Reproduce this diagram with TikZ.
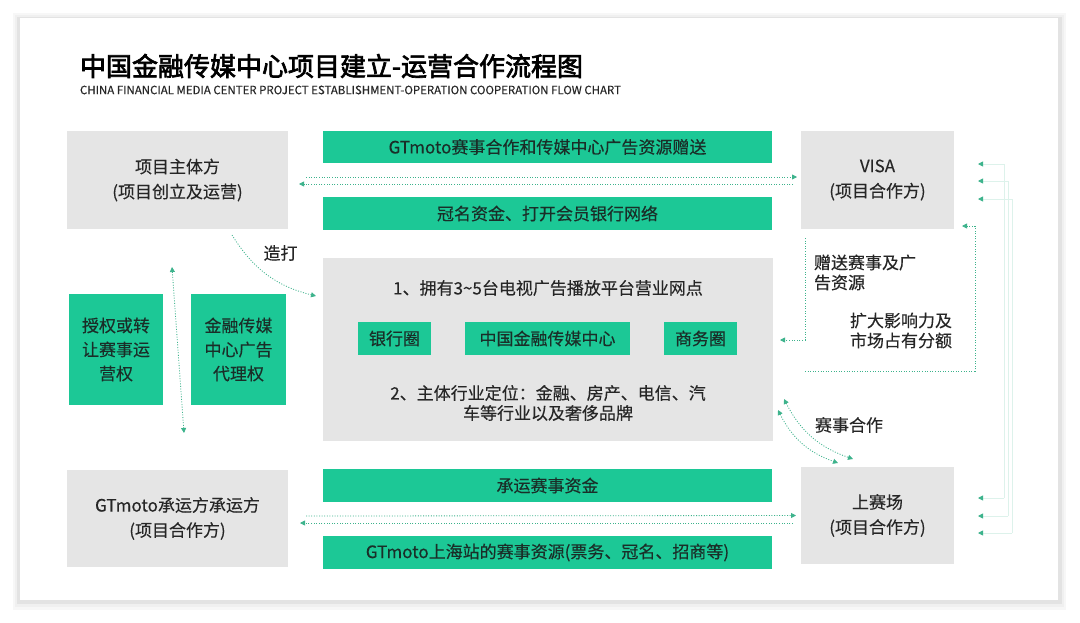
\documentclass[tikz,border=0pt]{standalone}
\usepackage{fontspec}
\usepackage{graphicx}
\setmainfont{Noto Sans CJK SC}[FakeBold=0.3]
\newfontfamily\titlefont{Noto Sans CJK SC}[FakeBold=2.5]
\usetikzlibrary{arrows.meta,calc}
\definecolor{gbox}{HTML}{1CC896}
\definecolor{boxc}{HTML}{E5E5E5}
\definecolor{txtc}{HTML}{262626}
\definecolor{gtxt}{HTML}{1A2E28}
\definecolor{connc}{HTML}{3DB38C}
\definecolor{faintc}{HTML}{DDF2EB}
\begin{document}
\begin{tikzpicture}[x=1pt,y=-1pt,
  every node/.style={inner sep=0pt, outer sep=0pt},
  txt/.style={font=\fontsize{17}{25}\selectfont, text=txtc, align=center},
  graybox/.style={txt, fill=boxc},
  greenbox/.style={txt, fill=gbox, text=gtxt},
  conn/.style={draw=connc, line width=0.8pt, dash pattern=on 1pt off 1.6pt, >={Triangle[length=5pt,width=5pt]}},
  faintconn/.style={draw=faintc, line width=0.8pt, >={Triangle[length=5pt,width=5pt,color=connc]}},
  faint/.style={draw=faintc, line width=0.8pt}]
\useasboundingbox (0,0) rectangle (1080,622);
\fill[white] (0,0) rectangle (1080,622);
% card with shadow
\fill[black!3] (13,13) rectangle (1066,610);
\fill[black!6] (15,15) rectangle (1064,607);
\fill[black!11] (17,17) rectangle (1062,604);
\fill[white] (20,18) rectangle (1058,600);

% title
\node[anchor=west] (title) at (80,66) {\resizebox{503pt}{!}{\fontsize{26}{26}\selectfont\titlefont 中国金融传媒中心项目建立-运营合作流程图}};
\node[anchor=west, text=txtc] (subtitle) at (80,90) {\resizebox{541pt}{!}{\fontsize{11}{11}\selectfont CHINA FINANCIAL MEDIA CENTER PROJECT ESTABLISHMENT-OPERATION COOPERATION FLOW CHART}};

% left/right party boxes
\node[graybox, minimum width=221pt, minimum height=98pt] (main) at (177.5,180) {项目主体方\\(项目创立及运营)};
\node[graybox, minimum width=153pt, minimum height=98pt] (visa) at (877.5,180) {VISA\\(项目合作方)};
\node[graybox, minimum width=221pt, minimum height=97pt] (carrier) at (177.5,518.5) {GTmoto承运方承运方\\(项目合作方)};
\node[graybox, minimum width=153pt, minimum height=97pt] (race) at (877.5,515.5) {上赛场\\(项目合作方)};

% green bars
\node[greenbox, minimum width=449pt, minimum height=32pt] (bar1) at (547.5,147) {GTmoto赛事合作和传媒中心广告资源赠送};
\node[greenbox, minimum width=449pt, minimum height=33pt] (bar2) at (547.5,213.5) {冠名资金、打开会员银行网络};
\node[greenbox, minimum width=449pt, minimum height=33pt] (bar3) at (547.5,485.5) {承运赛事资金};
\node[greenbox, minimum width=449pt, minimum height=33pt] (bar4) at (547.5,552.5) {GTmoto上海站的赛事资源(票务、冠名、招商等)};

% center box
\node[graybox, minimum width=450pt, minimum height=183pt] (center) at (548,349.5) {};
\node[txt] (line1) at (548,288) {1、拥有3\textasciitilde5台电视广告播放平台营业网点};
\node[txt, font=\fontsize{17}{20}\selectfont] (line2) at (548,403) {2、主体行业定位：金融、房产、电信、汽\\车等行业以及奢侈品牌};
\node[greenbox, minimum width=73pt, minimum height=33pt] (g1) at (394.5,338.5) {银行圈};
\node[greenbox, minimum width=165pt, minimum height=33pt] (g2) at (547.5,338.5) {中国金融传媒中心};
\node[greenbox, minimum width=73pt, minimum height=33pt] (g3) at (700.5,338.5) {商务圈};

% left green boxes
\node[greenbox, font=\fontsize{17}{24}\selectfont, minimum width=94pt, minimum height=111pt] (L1) at (116,349.5) {授权或转\\让赛事运\\营权};
\node[greenbox, font=\fontsize{17}{24}\selectfont, minimum width=95pt, minimum height=111pt] (L2) at (238.5,349.5) {金融传媒\\中心广告\\代理权};

% labels
\node[txt] (zaoda) at (280.5,253) {造打};
\node[txt, align=left, anchor=west, font=\fontsize{17}{20}\selectfont] (give) at (814,272.5) {赠送赛事及广\\告资源};
\node[txt, align=left, anchor=west, font=\fontsize{17}{20}\selectfont] (expand) at (850,330.5) {扩大影响力及\\市场占有分额};
\node[txt] (coop) at (849,425) {赛事合作};

% top connectors
\draw[conn,->] ([xshift=-8pt,yshift=-4pt]visa.west) -- ([xshift=11pt,yshift=-4pt]main.east);
\draw[conn,->] ([xshift=18pt,yshift=3pt]main.east) -- ([xshift=-4pt,yshift=3pt]visa.west);
% bottom connectors
\draw[conn,->] ([xshift=-8pt,yshift=-7.5pt]race.west) -- ([xshift=12pt,yshift=-4.5pt]carrier.east);
\draw[conn,->] ([xshift=18pt,yshift=2.5pt]carrier.east) -- ([xshift=-5pt]race.west);

% zaoda curve
\draw[conn,->] ([xshift=54.5pt,yshift=-6pt]main.south) to[bend right=22] ([xshift=-7pt,yshift=53.5pt]center.west);

% vertical double arrow between left green boxes
\draw[conn,<->] ([xshift=9pt,yshift=27pt]L1.north east) -- ([xshift=-7pt,yshift=-28pt]L2.south west);

% VISA elbows
\draw[conn,->] ([xshift=4pt,yshift=-9pt]visa.south west) |- ([xshift=7pt,yshift=9.5pt]center.east);
\draw[conn,->] ([xshift=32pt,yshift=-21.5pt]center.east) -| ([xshift=21pt,yshift=3pt]visa.south east) -- ([xshift=8pt,yshift=3pt]visa.south east);

% race cooperation curves
\draw[conn,<->] ([xshift=11pt,yshift=42pt]center.south east) to[bend right=22] ([xshift=52pt,yshift=8pt]race.north west);
\draw[conn,<->] ([xshift=5pt,yshift=31pt]center.south east) to[bend right=22] ([xshift=37pt,yshift=4pt]race.north west);

% right side lines
\coordinate (ra1) at (1004,164);
\coordinate (ra2) at (1008,181);
\coordinate (ra3) at (1012,199);
\coordinate (rb1) at (1004,498);
\coordinate (rb2) at (1008,516);
\coordinate (rb3) at (1012,533);
\draw[faint] (ra1) -- (rb1);
\draw[faint] (ra2) -- (rb2);
\draw[faint] (ra3) -- (rb3);
\draw[faintconn,->] (ra1) -- ([xshift=24pt,yshift=16pt]visa.east);
\draw[faintconn,->] (ra2) -- ([xshift=24pt,yshift=-1pt]visa.east);
\draw[faintconn,->] (ra3) -- ([xshift=24pt,yshift=-19pt]visa.east);
\draw[faintconn,->] (rb1) -- ([xshift=24pt,yshift=17.5pt]race.east);
\draw[faintconn,->] (rb2) -- ([xshift=24pt,yshift=-0.5pt]race.east);
\draw[faintconn,->] (rb3) -- ([xshift=24pt,yshift=-17.5pt]race.east);
\end{tikzpicture}
\end{document}
